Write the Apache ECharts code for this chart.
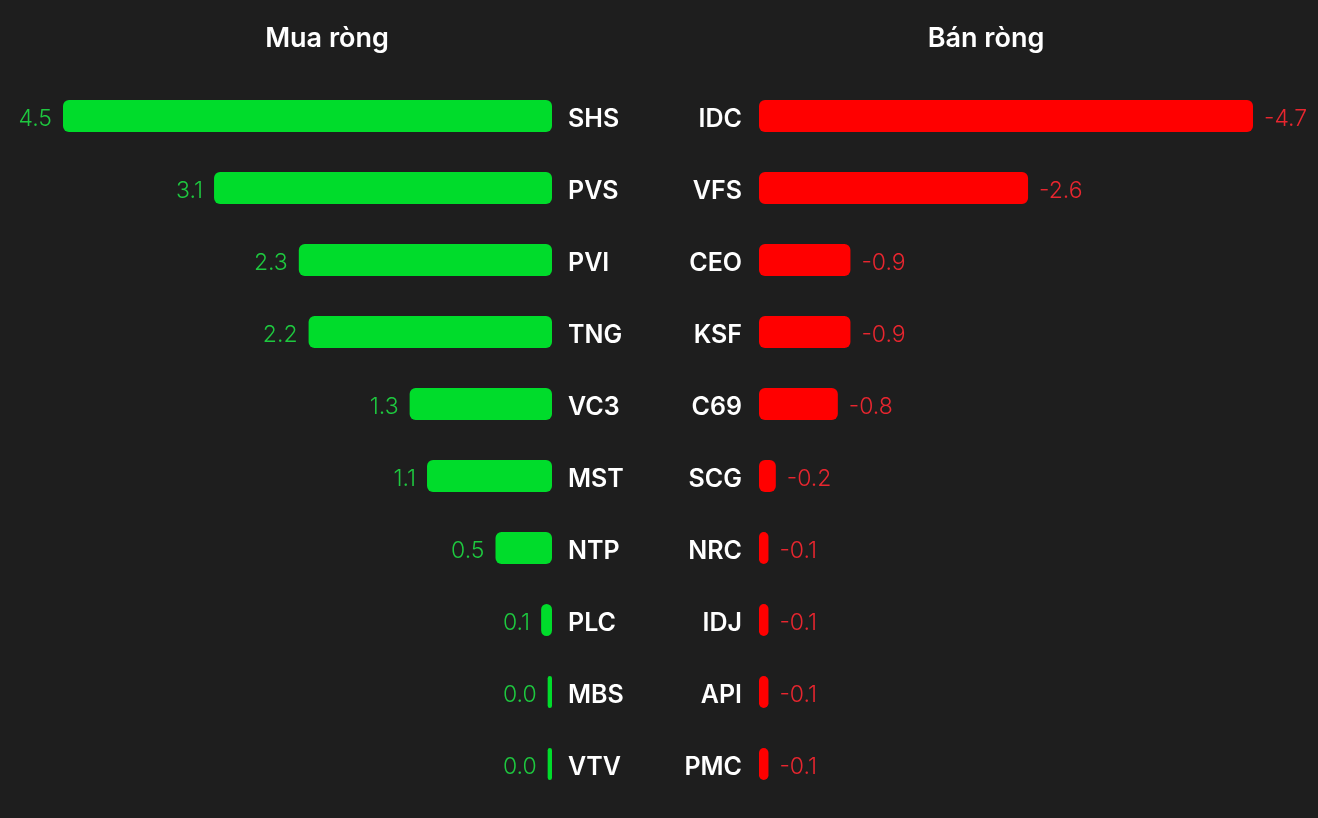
<!DOCTYPE html>
<html lang="vi">
<head>
    <meta charset="UTF-8">
    <title>Mua ròng / Bán ròng</title>
    <script src="https://cdn.jsdelivr.net/npm/echarts@6/dist/echarts.min.js"></script>
    <style>
        html, body { margin: 0; padding: 0; background: #1e1e1e; }
        #chart { width: 1318px; height: 818px; }
    </style>
</head>
<body>
<div id="chart"></div>
<script>
    // dữ liệu
    var buyNames = ['SHS', 'PVS', 'PVI', 'TNG', 'VC3', 'MST', 'NTP', 'PLC', 'MBS', 'VTV'];
    var buyValues = [4.5, 3.11, 2.33, 2.24, 1.31, 1.15, 0.52, 0.1, 0.04, 0.04];
    var sellNames = ['IDC', 'VFS', 'CEO', 'KSF', 'C69', 'SCG', 'NRC', 'IDJ', 'API', 'PMC'];
    var sellValues = [-4.7, -2.56, -0.87, -0.87, -0.75, -0.16, -0.09, -0.09, -0.09, -0.09];

    var font = 'Inter, "Noto Sans", sans-serif';

    var nameRich = {
        n: {color: '#ffffff', fontSize: 25, fontWeight: 600, fontFamily: font, padding: [6, 0, 0, 0]}
    };

    var chart = echarts.init(document.getElementById('chart'));
    chart.setOption({
        backgroundColor: '#1e1e1e',
        animation: false,
        title: [{
            text: 'Mua ròng',
            left: 322, top: 20, textAlign: 'center',
            textStyle: {color: '#ffffff', fontSize: 27, fontWeight: 600, fontFamily: font}
        }, {
            text: 'Bán ròng',
            left: 981, top: 20, textAlign: 'center',
            textStyle: {color: '#ffffff', fontSize: 27, fontWeight: 600, fontFamily: font}
        }],
        grid: [
            {left: 63, right: 766, top: 80, bottom: 18},
            {left: 759, right: 65, top: 80, bottom: 18}
        ],
        xAxis: [{
            gridIndex: 0, type: 'value', inverse: true, min: 0, max: 'dataMax',
            show: false
        }, {
            gridIndex: 1, type: 'value', min: 0, max: 'dataMax',
            show: false
        }],
        yAxis: [{
            gridIndex: 0, type: 'category', data: buyNames, inverse: true, position: 'right',
            axisLine: {show: false}, axisTick: {show: false}, splitLine: {show: false},
            axisLabel: {
                align: 'left', margin: 16, rich: nameRich,
                formatter: function (v) { return '{n|' + v + '}'; }
            }
        }, {
            gridIndex: 1, type: 'category', data: sellNames, inverse: true, position: 'left',
            axisLine: {show: false}, axisTick: {show: false}, splitLine: {show: false},
            axisLabel: {
                align: 'right', margin: 17, rich: nameRich,
                formatter: function (v) { return '{n|' + v + '}'; }
            }
        }],
        series: [{
            type: 'bar',
            xAxisIndex: 0, yAxisIndex: 0,
            data: buyValues,
            barWidth: 32,
            itemStyle: {color: '#00dc2b', borderRadius: 6},
            label: {
                show: true, position: 'left', distance: 11, offset: [0, 3],
                color: '#1ec83f', fontSize: 23, fontWeight: 300, fontFamily: font,
                formatter: function (p) { return p.value.toFixed(1); }
            }
        }, {
            type: 'bar',
            xAxisIndex: 1, yAxisIndex: 1,
            data: sellValues.map(function (v) { return -v; }),
            barWidth: 32,
            itemStyle: {color: '#ff0000', borderRadius: 6},
            label: {
                show: true, position: 'right', distance: 11, offset: [0, 3],
                color: '#e8262f', fontSize: 23, fontWeight: 300, fontFamily: font,
                formatter: function (p) { return (-p.value).toFixed(1); }
            }
        }]
    });
</script>
</body>
</html>
